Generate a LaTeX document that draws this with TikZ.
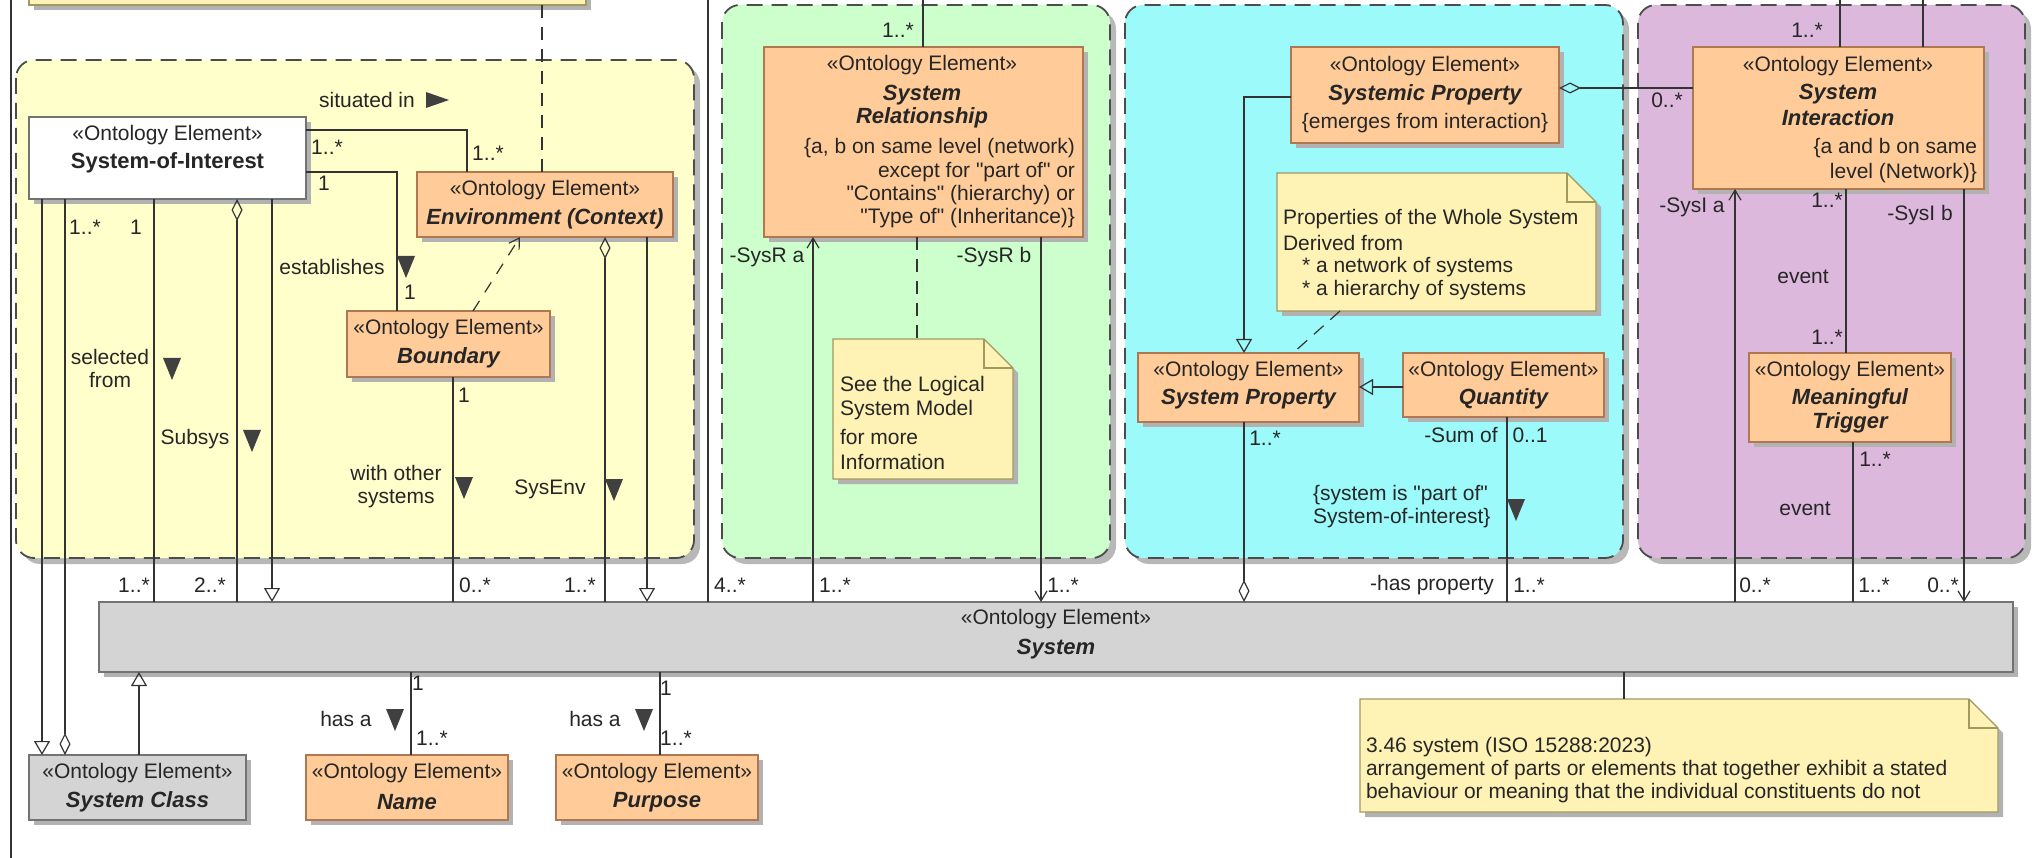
\documentclass[tikz,border=0pt]{standalone}
\usepackage{fontspec}
\setmainfont{Liberation Sans}[Ligatures=TeXOff]
\usetikzlibrary{arrows.meta,shadows}
\definecolor{gyel}{HTML}{FFFFCC}
\definecolor{ggrn}{HTML}{CCFFCC}
\definecolor{gcya}{HTML}{9CFAFA}
\definecolor{gpur}{HTML}{DCB8DC}
\definecolor{orng}{HTML}{FFCC99}
\definecolor{orngd}{HTML}{B07850}
\definecolor{notef}{HTML}{FFF2B5}
\definecolor{noted}{HTML}{A09A60}
\definecolor{sysg}{HTML}{D4D4D4}
\newcommand\dtri[2]{\fill[tri] (#1-9,#2-11) -- (#1+9,#2-11) -- (#1,#2+11) -- cycle;}
\newcommand\mynote[1]{%
  \filldraw[nfill] (#1.north west) -- ([xshift=-29pt]#1.north east) -- ([yshift=-29pt]#1.north east) -- (#1.south east) -- (#1.south west) -- cycle;
  \draw[draw=noted, line width=1.2pt] ([xshift=-29pt]#1.north east) -- ([xshift=-29pt,yshift=-29pt]#1.north east) -- ([yshift=-29pt]#1.north east);}
\begin{document}
\begin{tikzpicture}[x=1pt,y=-1pt,
 con/.style={draw=black!80, line width=1.2pt},
 txt/.style={inner sep=0pt, outer sep=0pt, font=\fontsize{21}{23}\selectfont, text=black!85},
 ttl/.style={inner sep=0pt, outer sep=0pt, font=\fontsize{22}{25}\selectfont\bfseries\itshape, text=black!85},
 shd/.style={drop shadow={shadow xshift=5pt,shadow yshift=-5pt,fill=black!30,opacity=1}},
 grp/.style={draw=black!70, line width=1.8pt, dash pattern=on 16pt off 9pt, rounded corners=18pt, drop shadow={shadow xshift=6pt,shadow yshift=-6pt,fill=black!28,opacity=1}},
 obox/.style={shd, draw=orngd, fill=orng, line width=1.2pt, inner sep=0pt, outer sep=0pt},
 gbox/.style={shd, draw=black!55, fill=sysg, line width=1.2pt, inner sep=0pt, outer sep=0pt},
 wbox/.style={shd, draw=black!55, fill=white, line width=1.2pt, inner sep=0pt, outer sep=0pt},
 nbox/.style={inner sep=0pt, outer sep=0pt},
 nfill/.style={shd, fill=notef, draw=noted, line width=1.2pt},
 tri/.style={fill=black!75},
 gen/.style={-{Triangle[open,length=14pt,width=16pt]}},
 agg/.style={{Diamond[open,length=22pt,width=11pt]}-},
 aggend/.style={-{Diamond[open,length=22pt,width=11pt]}},
 nav/.style={-{Straight Barb[length=10pt,width=12pt]}},
 dsh/.style={dash pattern=on 13pt off 9pt},
]
\useasboundingbox (0,0) rectangle (2035,858);
\fill[white] (0,0) rectangle (2035,858);

% groups
\draw[grp, fill=gyel] (16,60) rectangle (694,558);
\draw[grp, fill=ggrn] (722,5) rectangle (1110,558);
\draw[grp, fill=gcya] (1125,5) rectangle (1623,558);
\draw[grp, fill=gpur] (1638,5) rectangle (2025,558);

% boxes
\node[nbox, shd, fill=notef, draw=noted, line width=1.2pt, minimum width=557pt, minimum height=65pt] (tn) at (307.5,-27.5) {};
\node[wbox, minimum width=277pt, minimum height=82pt] (soi) at (167.5,158) {};
\node[obox, minimum width=256pt, minimum height=65pt] (env) at (545,204.5) {};
\node[obox, minimum width=203pt, minimum height=66pt] (bnd) at (448.5,344) {};
\node[obox, minimum width=319pt, minimum height=190pt] (sr) at (923.5,142) {};
\node[obox, minimum width=268pt, minimum height=96pt] (smp) at (1425,95) {};
\node[obox, minimum width=291pt, minimum height=142pt] (si) at (1838.5,118) {};
\node[obox, minimum width=221pt, minimum height=69pt] (sp) at (1248.5,387.5) {};
\node[obox, minimum width=201pt, minimum height=64pt] (qty) at (1503.5,385) {};
\node[obox, minimum width=202pt, minimum height=89pt] (mt) at (1850,397.5) {};
\node[gbox, minimum width=1914pt, minimum height=70pt] (sys) at (1056,637) {};
\node[gbox, minimum width=217pt, minimum height=65pt] (scl) at (137.5,787.5) {};
\node[obox, minimum width=202pt, minimum height=65pt] (nm) at (407,787.5) {};
\node[obox, minimum width=202pt, minimum height=65pt] (pp) at (657,787.5) {};
\node[nbox, minimum width=180pt, minimum height=140pt] (srn) at (923,409) {};
\node[nbox, minimum width=319pt, minimum height=138pt] (cn) at (1436.5,242) {};
\node[nbox, minimum width=638pt, minimum height=113pt] (sn) at (1679,755.5) {};
\mynote{srn}
\mynote{cn}
\mynote{sn}

% free ends at the top and bottom
\coordinate (ft) at (11,0);
\coordinate (fb) at (11,858);
\coordinate (t708) at (708,0);
\coordinate (t923) at (923,0);
\coordinate (t1840) at (1840,0);
\coordinate (t1923) at (1923,0);

% connectors
\draw[con] (ft) -- (fb);
\draw[con, dsh] (tn.south -| 542,0) -- (env.north -| 542,0);
\draw[con] (t708) -- (t708 |- sys.north);
\draw[con] (t923) -- (t923 |- sr.north);
\draw[con] (t1840) -- (t1840 |- si.north);
\draw[con] (t1923) -- (t1923 |- si.north);
\draw[con, gen] (soi.south -| 42,0) -- (scl.north -| 42,0);
\draw[con, aggend] (soi.south -| 65,0) -- (scl.north -| 65,0);
\draw[con] (soi.south -| 154,0) -- (sys.north -| 154,0);
\draw[con, agg] (soi.south -| 237,0) -- (sys.north -| 237,0);
\draw[con, gen] (soi.south -| 272,0) -- (sys.north -| 272,0);
\draw[con] (soi.east |- 0,130) -| (env.north -| 467,0);
\draw[con] (soi.east |- 0,172) -| (bnd.north -| 397,0);
\draw[con, dash pattern=on 12pt off 10pt, nav] (bnd.north -| 473,0) -- (env.south -| 520,0);
\draw[con] (bnd.south -| 453,0) -- (sys.north -| 453,0);
\draw[con, agg] (env.south -| 605,0) -- (sys.north -| 605,0);
\draw[con, gen] (env.south -| 647,0) -- (sys.north -| 647,0);
\draw[con, nav] (sys.north -| 813,0) -- (sr.south -| 813,0);
\draw[con, dsh] (sr.south -| 917,0) -- (srn.north -| 917,0);
\draw[con, nav] (sr.south -| 1041,0) -- (sys.north -| 1041,0);
\draw[con, agg] (sys.north -| 1244,0) -- (sp.south -| 1244,0);
\draw[con, gen] (smp.west |- 0,97) -| (sp.north -| 1244,0);
\draw[con, gen] (qty.west |- 0,387) -- (sp.east |- 0,387);
\draw[con, dsh] (cn.south -| 1340,0) -- (sp.north -| 1293,0);
\draw[con] (qty.south -| 1507,0) -- (sys.north -| 1507,0);
\draw[con, agg] (smp.east |- 0,88) -- (si.west |- 0,88);
\draw[con, nav] (sys.north -| 1735,0) -- (si.south -| 1735,0);
\draw[con] (si.south -| 1846,0) -- (mt.north -| 1846,0);
\draw[con] (mt.south -| 1853,0) -- (sys.north -| 1853,0);
\draw[con, nav] (si.south -| 1964,0) -- (sys.north -| 1964,0);
\draw[con] (sys.south -| 411,0) -- (nm.north -| 411,0);
\draw[con] (sys.south -| 660,0) -- (pp.north -| 660,0);
\draw[con, gen] (scl.north -| 139,0) -- (sys.south -| 139,0);
\draw[con] (sys.south -| 1624,0) -- (sn.north -| 1624,0);

% box texts
\node[txt] (a1) at (167.5,135) {«Ontology Element»};
\node[txt, font=\fontsize{22}{25}\selectfont\bfseries] (a2) at (167.5,163) {System-of-Interest};
\node[txt] (a3) at (545,190) {«Ontology Element»};
\node[ttl] (a4) at (545,219) {Environment (Context)};
\node[txt] (a5) at (448.5,329) {«Ontology Element»};
\node[ttl] (a6) at (448.5,358) {Boundary};
\node[txt] (a7) at (922,65) {«Ontology Element»};
\node[ttl] (a8) at (922,95) {System};
\node[ttl] (a9) at (922,118) {Relationship};
\node[txt, anchor=east] (a10) at (1075,148) {\{a, b on same level (network)};
\node[txt, anchor=east] (a11) at (1075,172) {except for "part of" or};
\node[txt, anchor=east] (a12) at (1075,195) {"Contains" (hierarchy) or};
\node[txt, anchor=east] (a13) at (1075,218) {"Type of" (Inheritance)\}};
\node[txt] (a14) at (1425,66) {«Ontology Element»};
\node[ttl] (a15) at (1425,95) {Systemic Property};
\node[txt] (a16) at (1425,123) {\{emerges from interaction\}};
\node[txt] (a17) at (1838,66) {«Ontology Element»};
\node[ttl] (a18) at (1838,94) {System};
\node[ttl] (a19) at (1838,118) {Interaction};
\node[txt, anchor=east] (a20) at (1977,148) {\{a and b on same};
\node[txt, anchor=east] (a21) at (1977,173) {level (Network)\}};
\node[txt] (a22) at (1248.5,371) {«Ontology Element»};
\node[ttl] (a23) at (1248.5,399) {System Property};
\node[txt] (a24) at (1503.5,371) {«Ontology Element»};
\node[ttl] (a25) at (1503.5,399) {Quantity};
\node[txt] (a26) at (1850,371) {«Ontology Element»};
\node[ttl] (a27) at (1850,399) {Meaningful};
\node[ttl] (a28) at (1850,423) {Trigger};
\node[txt] (a29) at (1056,619) {«Ontology Element»};
\node[ttl] (a30) at (1056,649) {System};
\node[txt] (a31) at (137.5,773) {«Ontology Element»};
\node[ttl] (a32) at (137.5,802) {System Class};
\node[txt] (a33) at (407,773) {«Ontology Element»};
\node[ttl] (a34) at (407,802) {Name};
\node[txt] (a35) at (657,773) {«Ontology Element»};
\node[ttl] (a36) at (657,802) {Purpose};

% note texts
\node[txt, anchor=west] (n1) at (840,386) {See the Logical};
\node[txt, anchor=west] (n2) at (840,410) {System Model};
\node[txt, anchor=west] (n3) at (840,437) {for more};
\node[txt, anchor=west] (n4) at (840,462) {Information};
\node[txt, anchor=west] (n5) at (1283,219) {Properties of the Whole System};
\node[txt, anchor=west] (n6) at (1283,243) {Derived from};
\node[txt, anchor=west] (n7) at (1302,267) {* a network of systems};
\node[txt, anchor=west] (n8) at (1302,290) {* a hierarchy of systems};
\node[txt, anchor=west] (n9) at (1366,747) {3.46 system (ISO 15288:2023)};
\node[txt, anchor=west] (n10) at (1366,770) {arrangement of parts or elements that together exhibit a stated};
\node[txt, anchor=west] (n11) at (1366,793) {behaviour or meaning that the individual constituents do not};

% labels in the yellow group
\node[txt] (b1) at (367,100) {situated in};
\fill[tri] (426,92) -- (426,108) -- (449,100) -- cycle;
\node[txt] (b2) at (327,147) {1..*};
\node[txt] (b3) at (488,153) {1..*};
\node[txt] (b4) at (324,183) {1};
\node[txt] (b5) at (332,267) {establishes};
\dtri{406}{267}
\node[txt] (b6) at (410,292) {1};
\node[txt] (b7) at (85,227) {1..*};
\node[txt] (b8) at (136,227) {1};
\node[txt, align=center] (b9) at (110,368.5) {selected\\from};
\dtri{172}{369}
\node[txt] (b10) at (195,439) {Subsys};
\dtri{252}{441}
\node[txt, align=center] (b11) at (396,486.5) {with other\\systems};
\dtri{464}{488}
\node[txt] (b12) at (464,395) {1};
\node[txt] (b13) at (550,489) {SysEnv};
\dtri{614}{490}

% multiplicities at the top of System
\node[txt] (m1) at (134,585) {1..*};
\node[txt] (m2) at (210,585) {2..*};
\node[txt] (m3) at (475,585) {0..*};
\node[txt] (m4) at (580,585) {1..*};
\node[txt] (m5) at (730,585) {4..*};
\node[txt] (m6) at (835,585) {1..*};
\node[txt] (m7) at (1063,585) {1..*};
\node[txt] (m8) at (1432,585) {-has property};
\node[txt] (m9) at (1529,585) {1..*};
\node[txt] (m10) at (1755,585) {0..*};
\node[txt] (m11) at (1874,585) {1..*};
\node[txt] (m12) at (1943,585) {0..*};

% green, cyan, purple labels
\node[txt] (c1) at (898,30) {1..*};
\node[txt] (c2) at (767,257) {-SysR a};
\node[txt] (c3) at (994,257) {-SysR b};
\node[txt] (c4) at (1265,438) {1..*};
\node[txt] (c5) at (1461,435) {-Sum of};
\node[txt] (c6) at (1530,435) {0..1};
\node[txt, anchor=west, align=left] (c7) at (1313,506.5) {\{system is "part of"\\System-of-interest\}};
\dtri{1516}{510}
\node[txt] (c8) at (1667,100) {0..*};
\node[txt] (c9) at (1807,30) {1..*};
\node[txt] (c10) at (1692,207) {-SysI a};
\node[txt] (c11) at (1827,200) {1..*};
\node[txt] (c12) at (1920,215) {-SysI b};
\node[txt] (c13) at (1803,277) {event};
\node[txt] (c14) at (1827,337) {1..*};
\node[txt] (c15) at (1875,459) {1..*};
\node[txt] (c16) at (1805,509) {event};

% bottom labels
\node[txt] (d1) at (418,683) {1};
\node[txt] (d2) at (432,738) {1..*};
\node[txt] (d3) at (346,719) {has a};
\dtri{395}{720}
\node[txt] (d4) at (666,688) {1};
\node[txt] (d5) at (676,738) {1..*};
\node[txt] (d6) at (595,719) {has a};
\dtri{644}{720}
\end{tikzpicture}
\end{document}
